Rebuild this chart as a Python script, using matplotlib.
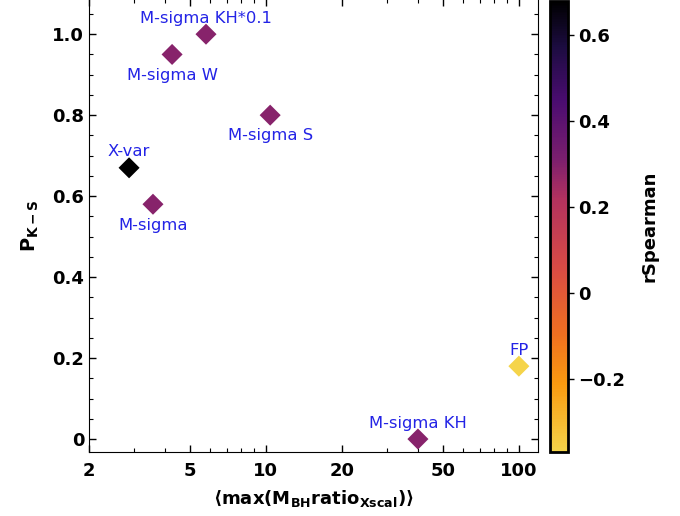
import numpy as np
import matplotlib.pyplot as plt
from matplotlib.colors import LinearSegmentedColormap
from matplotlib.ticker import FixedLocator, NullFormatter, MultipleLocator

plt.rcParams['font.family'] = 'DejaVu Sans'
plt.rcParams['mathtext.fontset'] = 'dejavusans'
plt.rcParams['mathtext.default'] = 'bf'

# scaling relations: mean max BH mass ratio, K-S probability, Spearman r
names = ['M-sigma KH*0.1', 'M-sigma W', 'M-sigma S', 'X-var', 'M-sigma', 'M-sigma KH', 'FP']
ratio = [5.8, 4.26, 10.4, 2.88, 3.58, 39.9, 100.0]
pks = [1.0, 0.95, 0.80, 0.67, 0.58, 0.0, 0.18]
rspear = [0.29, 0.29, 0.29, 0.679, 0.29, 0.29, -0.370]
# label placement: +1 above the point, -1 below
side = [1, -1, -1, 1, -1, 1, 1]

sunset = LinearSegmentedColormap.from_list('sunset', [
    (0.00, '#f5d44a'), (0.15, '#fa9a10'), (0.26, '#f07020'),
    (0.41, '#d84b45'), (0.56, '#b3325e'), (0.65, '#7b1f6e'),
    (0.78, '#4a0c70'), (0.90, '#1c0c40'), (1.00, '#000000')])

fig = plt.figure(figsize=(6.8, 5.16), dpi=100)
ax = fig.add_axes([89/680, 64/516, 449/680, 452/516 + 0.002])
cax = fig.add_axes([550/680, 64/516, 18/680, 452/516 - 0.002])

sc = ax.scatter(ratio, pks, c=rspear, cmap=sunset, vmin=min(rspear), vmax=max(rspear),
                marker='D', s=115, edgecolors='none', zorder=3)

for n, x, y, s in zip(names, ratio, pks, side):
    ax.annotate(n, (x, y), xytext=(0, 11.5 if s > 0 else -15), textcoords='offset points',
                ha='center', va='center', color='#2323e6', fontsize=11.8)

ax.set_xscale('log')
ax.set_xlim(2, 119)
ax.set_ylim(-0.032, 1.087)
ax.xaxis.set_major_locator(FixedLocator([2, 5, 10, 20, 50, 100]))
ax.xaxis.set_major_formatter(plt.FixedFormatter(['2', '5', '10', '20', '50', '100']))
ax.xaxis.set_minor_locator(FixedLocator([3, 4, 6, 7, 8, 9, 30, 40, 60, 70, 80, 90]))
ax.xaxis.set_minor_formatter(NullFormatter())
ax.yaxis.set_major_locator(FixedLocator([0, 0.2, 0.4, 0.6, 0.8, 1.0]))
ax.yaxis.set_major_formatter(plt.FixedFormatter(['0', '0.2', '0.4', '0.6', '0.8', '1.0']))
ax.yaxis.set_minor_locator(MultipleLocator(0.05))
ax.tick_params(which='both', direction='in', top=True, right=True, labelsize=13)
ax.tick_params(which='major', length=5, width=1)
ax.tick_params(which='minor', length=3, width=0.8)
ax.tick_params(axis='x', pad=7)
for t in ax.get_xticklabels() + ax.get_yticklabels():
    t.set_fontweight('bold')

ax.set_xlabel(r'$\langle$max(M$_{BH}$ratio$_{Xscal}$)$\rangle$', fontsize=13,
              fontweight='bold', labelpad=6)
ax.set_ylabel(r'P$_{K-S}$', fontsize=14, fontweight='bold', labelpad=8)

cb = fig.colorbar(sc, cax=cax)
cb.set_ticks([-0.2, 0, 0.2, 0.4, 0.6])
cb.set_ticklabels(['\u22120.2', '0', '0.2', '0.4', '0.6'])
cb.outline.set_linewidth(2)
cax.tick_params(direction='out', length=4, width=1, labelsize=13)
for t in cax.get_yticklabels():
    t.set_fontweight('bold')
cb.set_label('rSpearman', fontsize=13, fontweight='bold', labelpad=11)

fig.savefig('out.png', dpi=100)
